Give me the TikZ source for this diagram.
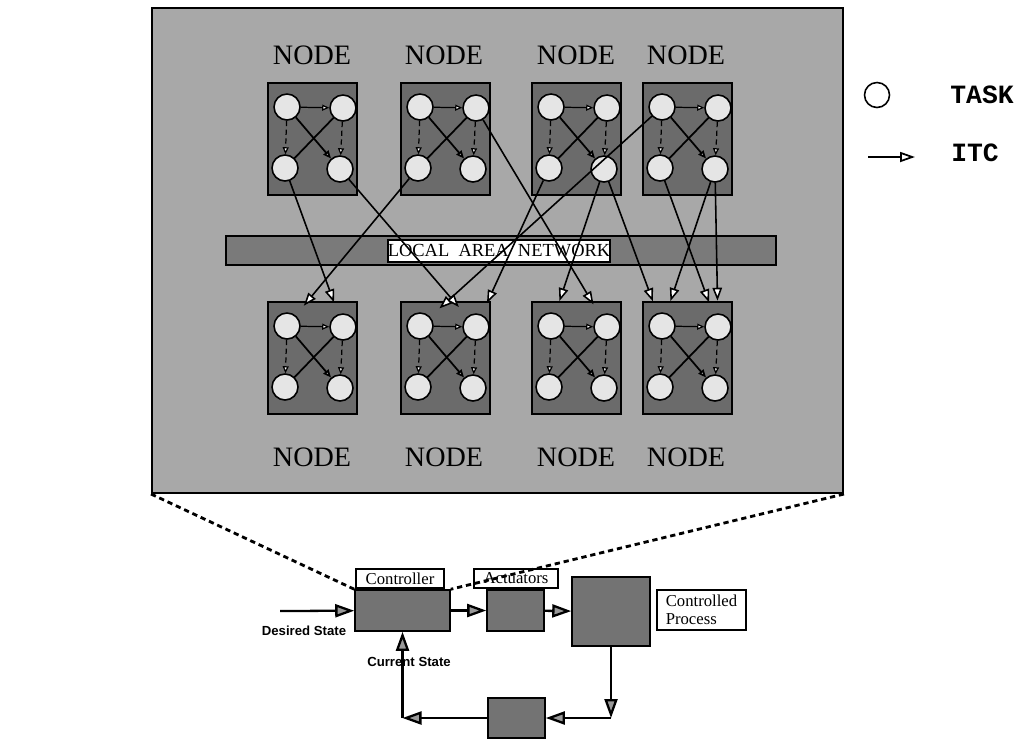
\documentclass[tikz,border=0pt]{standalone}
\usepackage{fontspec}
\setmainfont{Liberation Serif}
\newfontfamily\monofnt{Liberation Mono}
\newfontfamily\sansfnt{Liberation Sans}
\usetikzlibrary{arrows.meta}

\tikzset{
  nodebox/.style={draw=black, line width=0.9pt, fill=black!58, minimum width=1.78cm, minimum height=2.24cm, inner sep=0},
  task/.style={circle, draw=black, line width=0.9pt, fill=black!10, minimum size=0.52cm, inner sep=0},
  nodelbl/.style={font=\fontsize{16}{16}\selectfont},
  itc/.style={line width=0.9pt, -{Triangle[length=2.6mm,width=1.9mm,fill=white]}, shorten >=0.25cm},
  inner/.style={line width=0.7pt, -{Triangle[length=1.4mm,width=1.2mm,fill=white]}},
  cross/.style={line width=1pt},
  block/.style={draw=black, line width=0.9pt, fill=black!55, inner sep=0},
  lbl/.style={draw=black, line width=0.9pt, fill=white, inner sep=0, font=\fontsize{9.5}{10}\selectfont},
  flow/.style={line width=1.3pt, -{Triangle[length=3.8mm,width=2.6mm,fill=black!40]}},
  zoomline/.style={line width=1.6pt, dash pattern=on 3pt off 2.2pt},
  statelbl/.style={font=\sansfnt\bfseries\fontsize{7.5}{8}\selectfont},
}

\begin{document}
\begin{tikzpicture}[x=0.02cm, y=-0.02cm]
\useasboundingbox (0,0) rectangle (1023,741);

% enlarged view of the distributed controller
\node[draw=black, line width=1.2pt, fill=black!34, minimum width=13.82cm, minimum height=9.7cm, inner sep=0] (frame) at (497.5,250.5) {};
\node[draw=black, line width=0.9pt, fill=black!52, minimum width=11cm, minimum height=0.58cm, inner sep=0] (lan) at (501,250.5) {};
\node[draw=black, line width=0.9pt, fill=white, minimum width=3.96cm, minimum height=0.44cm, inner sep=0, font=\fontsize{10.5}{11}\selectfont] (lanlbl) at (499,251) {LOCAL\ \ AREA\ \ NETWORK};

\foreach \k/\xx in {1/268,2/401,3/532,4/643}{
  \foreach \row/\yy in {t/83,b/302}{
    \node[nodebox] (\row\k) at (\xx+44.5,\yy+56) {};
    \node[task] (\row\k a) at (\xx+19,\yy+24) {};
    \node[task] (\row\k b) at (\xx+75,\yy+25) {};
    \node[task] (\row\k c) at (\xx+17,\yy+85) {};
    \node[task] (\row\k d) at (\xx+72,\yy+86) {};
    \draw[inner] (\row\k a) -- (\row\k b);
    \draw[inner, densely dashed] (\row\k a) -- (\row\k c);
    \draw[inner, densely dashed] (\row\k b) -- (\row\k d);
    \draw[cross, -{Triangle[length=1.6mm,width=1.3mm,fill=white]}] (\row\k a) -- (\row\k d);
    \draw[cross] (\row\k b) -- (\row\k c);
  }
}

\node[nodelbl] (nt1) at (312,55) {NODE};
\node[nodelbl] (nt2) at (444,55) {NODE};
\node[nodelbl] (nt3) at (576,55) {NODE};
\node[nodelbl] (nt4) at (686,55) {NODE};
\node[nodelbl] (nb1) at (312,457) {NODE};
\node[nodelbl] (nb2) at (444,457) {NODE};
\node[nodelbl] (nb3) at (576,457) {NODE};
\node[nodelbl] (nb4) at (686,457) {NODE};

% inter task communication over the LAN
\draw[itc] (t1c) -- (b1b);
\draw[itc] (t2c) -- (b1a);
\draw[itc] (t1d) -- (b2b);
\draw[itc] (t4a) -- (b2a);
\draw[itc] (t3c) -- (b2b);
\draw[itc] (t2b) -- (b3b);
\draw[itc] (t3d) -- (b3a);
\draw[itc] (t3d) -- (b4a);
\draw[itc] (t4c) -- (b4b);
\draw[itc] (t4d) -- (b4a);
\draw[itc] (t4d) -- (b4b);

% legend
\node[circle, draw=black, line width=0.9pt, fill=white, minimum size=0.5cm, inner sep=0] (legtask) at (877,95) {};
\node[font=\monofnt\bfseries\fontsize{15}{15}\selectfont] (tasktxt) at (982,95) {TASK};
\coordinate (legfrom) at (868,157);
\coordinate (legto) at (915,157);
\draw[line width=1pt, -{Triangle[length=3mm,width=2mm,fill=white]}] (legfrom) -- (legto);
\node[font=\monofnt\bfseries\fontsize{15}{15}\selectfont] (itctxt) at (975,153) {ITC};

% control loop
\node[block, minimum width=1.9cm, minimum height=0.82cm] (ctrl) at (402.5,610.5) {};
\node[lbl, minimum width=1.76cm, minimum height=0.38cm] (ctrllbl) at (400,578.5) {Controller};
\node[block, minimum width=1.14cm, minimum height=0.82cm] (act) at (515.5,610.5) {};
\node[lbl, minimum width=1.68cm, minimum height=0.38cm] (actlbl) at (516,578.5) {Actuators};
\node[block, minimum width=1.56cm, minimum height=1.38cm] (proc) at (611,611.5) {};
\node[lbl, minimum width=1.78cm, minimum height=0.8cm, align=left] (proclbl) at (701.5,610) {Controlled\\Process};
\node[block, minimum width=1.14cm, minimum height=0.8cm] (sens) at (516.5,718) {};

\coordinate (desired) at (280,611);
\coordinate (pcorner) at (611,718);
\coordinate (fcorner) at (402.5,718);
\draw[flow] (desired) -- (ctrl);
\draw[flow] (ctrl) -- (act);
\draw[flow] (act) -- (proc);
\draw[flow] (proc) -- (pcorner);
\draw[flow] (pcorner) -- (sens);
\draw[flow] (sens) -- (fcorner);
\draw[flow] (fcorner) -- (ctrl);
\node[statelbl] (deslbl) at (304,631) {Desired State};
\node[statelbl] (curlbl) at (409,662) {Current State};

\draw[zoomline] (frame.south west) -- (ctrl.north west);
\draw[zoomline] (frame.south east) -- (ctrl.north east);
\end{tikzpicture}
\end{document}
